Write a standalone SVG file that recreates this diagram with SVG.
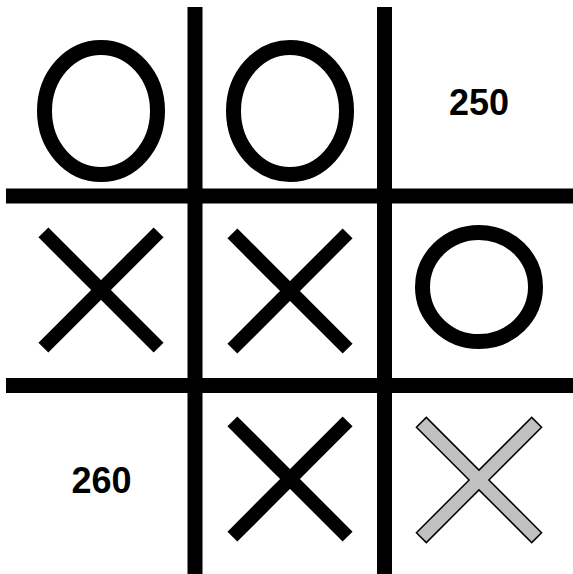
<svg xmlns="http://www.w3.org/2000/svg" width="573" height="574" viewBox="0 0 573 574">
<style>
.grid{stroke:#000;stroke-width:15;fill:none}
.o{fill:none;stroke:#000;stroke-width:15}
.x{stroke:#000;stroke-width:14;stroke-linecap:butt}
.gx{fill:#c0c0c0;stroke:#000;stroke-width:1.5;stroke-linejoin:miter}
.t{font-family:"Liberation Sans",Arial,sans-serif;font-weight:bold;font-size:36px;fill:#000;text-anchor:middle}
</style>
<rect width="573" height="574" fill="#fff"/>
<g id="grid">
<line class="grid" x1="195" y1="7" x2="195" y2="574"/>
<line class="grid" x1="384.5" y1="7" x2="384.5" y2="574"/>
<line class="grid" x1="6" y1="196" x2="573" y2="196"/>
<line class="grid" x1="6" y1="385.5" x2="573" y2="385.5"/>
</g>
<g id="o1"><ellipse class="o" cx="101" cy="111" rx="56.5" ry="63.5"/></g>
<g id="o2"><ellipse class="o" cx="290" cy="111" rx="56.5" ry="63.5"/></g>
<g id="t250"><text class="t" x="479" y="115">250</text></g>
<g id="x1"><line class="x" x1="43.4" y1="232.4" x2="158.6" y2="347.6"/><line class="x" x1="43.4" y1="347.6" x2="158.6" y2="232.4"/></g>
<g id="x2"><line class="x" x1="232.4" y1="233.4" x2="347.6" y2="348.6"/><line class="x" x1="232.4" y1="348.6" x2="347.6" y2="233.4"/></g>
<g id="o3"><ellipse class="o" cx="479" cy="287" rx="56.5" ry="54.5"/></g>
<g id="t260"><text class="t" x="101.5" y="493">260</text></g>
<g id="x3"><line class="x" x1="232.4" y1="421.4" x2="347.6" y2="536.6"/><line class="x" x1="232.4" y1="536.6" x2="347.6" y2="421.4"/></g>
<g id="x4"><polygon class="gx" points="541.58,532.68 488.9,480 541.58,427.32 531.68,417.42 479,470.1 426.32,417.42 416.42,427.32 469.1,480 416.42,532.68 426.32,542.58 479,489.9 531.68,542.58"/></g>
</svg>
